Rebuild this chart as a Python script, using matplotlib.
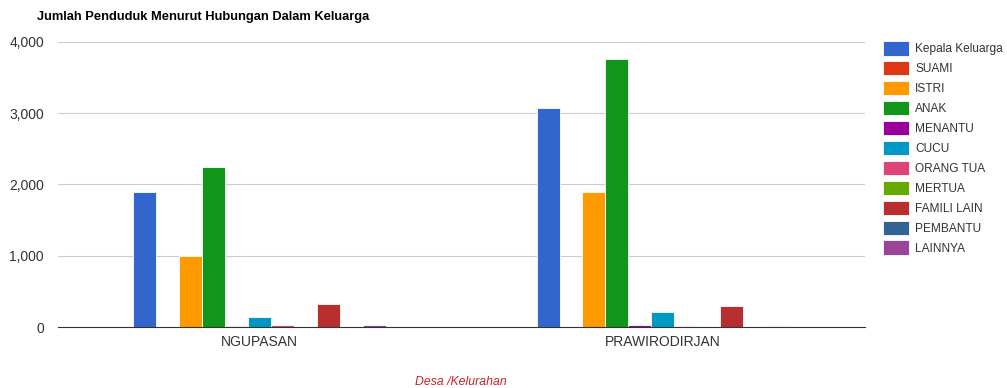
import numpy as np
import matplotlib.pyplot as plt

plt.rcParams["font.family"] = ["Liberation Sans", "DejaVu Sans"]

desa = ["NGUPASAN", "PRAWIRODIRJAN"]
hubungan = ["Kepala Keluarga", "SUAMI", "ISTRI", "ANAK", "MENANTU", "CUCU",
            "ORANG TUA", "MERTUA", "FAMILI LAIN", "PEMBANTU", "LAINNYA"]
ngupasan = [1890, 0, 995, 2240, 15, 145, 35, 0, 325, 0, 30]
prawirodirjan = [3075, 0, 1890, 3760, 30, 205, 15, 0, 295, 0, 20]
warna = ["#3366cc", "#dc3912", "#ff9900", "#109618", "#990099", "#0099c6",
         "#dd4477", "#66aa00", "#b82e2e", "#316395", "#994499"]
yticks = [0, 1000, 2000, 3000, 4000]

values = np.array([ngupasan, prawirodirjan])

fig = plt.figure(figsize=(10.07, 3.88), dpi=100)
ax = fig.add_axes([0.0576, 0.157, 0.801, 0.735])

x = np.arange(len(desa))
w = 0.057
n = len(hubungan)
for i, (name, col) in enumerate(zip(hubungan, warna)):
    ax.bar(x + (i - (n - 1) / 2) * w, values[:, i], width=w, color=col,
           edgecolor="white", linewidth=0.6, label=name, zorder=3)

ax.set_xlim(-0.5, 1.5)
ax.set_ylim(0, 4000)
ax.set_yticks(yticks)
ax.set_yticklabels([f"{v:,}" for v in yticks])
ax.set_xticks(x)
ax.set_xticklabels(desa)
ax.grid(axis="y", color="#cccccc", linewidth=0.8, zorder=0)
for s in ["top", "right", "left"]:
    ax.spines[s].set_visible(False)
ax.spines["bottom"].set_color("#333333")
ax.spines["bottom"].set_linewidth(0.8)
ax.spines["bottom"].set_zorder(4)
ax.tick_params(axis="both", length=0, labelsize=10, labelcolor="#333333")
ax.tick_params(axis="y", pad=10)
ax.tick_params(axis="x", pad=6)

ax.set_xlabel("Desa /Kelurahan", fontsize=8.8, style="italic", color="#cc2222",
              labelpad=19)
fig.text(0.037, 0.955, "Jumlah Penduduk Menurut Hubungan Dalam Keluarga",
         fontsize=9.3, fontweight="bold", color="#000000", va="center")

leg = ax.legend(loc="upper left", bbox_to_anchor=(1.017, 1.02), frameon=False,
                fontsize=8.6, handlelength=2.2, handleheight=1.5,
                labelspacing=0.45, handletextpad=0.5, borderaxespad=0)
for t in leg.get_texts():
    t.set_color("#333333")

fig.savefig("out.png", dpi=100)
